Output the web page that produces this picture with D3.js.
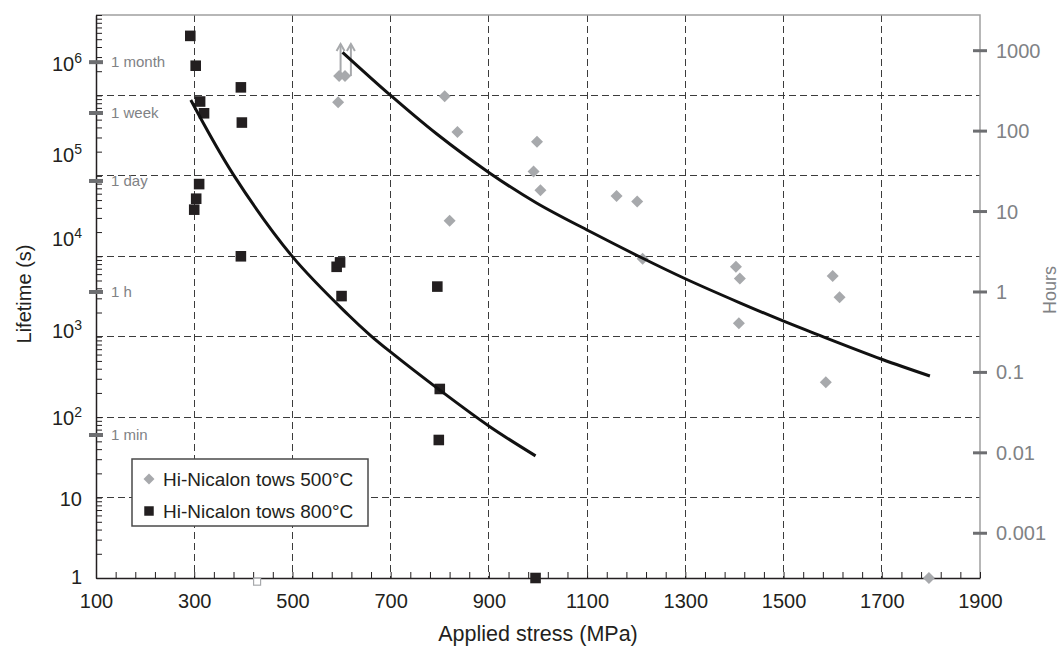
<!DOCTYPE html>
<html>
<head>
<meta charset="utf-8">
<script src="https://cdn.jsdelivr.net/npm/d3@7"></script>
<style>
    body { margin: 0; background: #fff; }
    svg { display: block; font-family: "Liberation Sans", Arial, sans-serif; }
</style>
</head>
<body>
<div id="chart"></div>
<script>
/* -------------------------------------------------------
   DATA
------------------------------------------------------- */

// Hi-Nicalon tows 800°C (squares)
const stress800 = [292, 303, 312, 320, 395, 397, 310, 304, 300, 395, 590, 597, 600, 795, 800, 798, 995];
const life800   = [5.5e6, 2.34e6, 8.4e5, 6.0e5, 1.26e6, 4.6e5, 7.9e4, 5.2e4, 3.8e4, 1.0e4, 7.4e3, 8.4e3, 3.2e3, 4.2e3, 224, 52, 1];

// Hi-Nicalon tows 500°C (diamonds)
const stress500 = [595, 607, 593, 810, 836, 998, 991, 1005, 820, 1160, 1202, 1213, 1403, 1411, 1600, 1614, 1409, 1586, 1796];
const life500   = [1.74e6, 1.74e6, 8.2e5, 9.8e5, 3.5e5, 2.66e5, 1.13e5, 6.6e4, 2.77e4, 5.6e4, 4.8e4, 9.3e3, 7.4e3, 5.3e3, 5.7e3, 3.1e3, 1.47e3, 271, 1];

// run-out arrows (500°C specimens that did not fail)
const runoutStress = [598, 619];
const runoutFrom   = [1.74e6, 1.74e6];
const runoutTo     = [4.36e6, 4.36e6];

// fitted curves
const fit800Stress = [293, 380, 500, 614, 658, 699, 800, 902, 995];
const fit800Life   = [8.77e5, 1.03e5, 9.9e3, 1.86e3, 1.05e3, 652, 217, 76, 33];
const fit500Stress = [602, 700, 794, 902, 997, 1104, 1208, 1301, 1411, 1499, 1568, 1700, 1798];
const fit500Life   = [3.44e6, 1.0e6, 3.31e5, 1.08e5, 4.6e4, 2.06e4, 9.8e3, 5.22e3, 2.64e3, 1.57e3, 1.07e3, 525, 325];

// stray open marker under the axis
const strayStress = [428];
const strayLife   = [0.9];

// axes
const xTickLabels  = [100, 300, 500, 700, 900, 1100, 1300, 1500, 1700, 1900];
const xGridValues  = [300, 500, 700, 900, 1100, 1300, 1500, 1700];
const yGridValues  = [10, 100, 1e3, 1e4, 1e5, 1e6];
const yLabelPowers = [0, 1, 2, 3, 4, 5, 6];
const hourTicks    = [1000, 100, 10, 1, 0.1, 0.01, 0.001];
const timeNames    = ["1 month", "1 week", "1 day", "1 h", "1 min"];
const timeSeconds  = [2592000, 604800, 86400, 3600, 60];
const legendLabels = ["Hi-Nicalon tows 500°C", "Hi-Nicalon tows 800°C"];

/* -------------------------------------------------------
   LAYOUT
------------------------------------------------------- */

const W = 1061, H = 653;
const plotL = 96, plotR = 980, plotT = 15, plotB = 578;
// the source drew the upper decade labels above their gridlines
const yLabelShift = [-1, 1, 1, -6, -17, -21, -31];

const INK = "#231f20";
const GREY_TXT = "#808285";
const GREY_TICK = "#6d6e71";
const DIAMOND = "#a7a9ac";

const svg = d3.select("#chart").append("svg")
    .attr("width", W)
    .attr("height", H);

const x = d3.scaleLinear().domain([100, 1900]).range([plotL, plotR]);
const y = d3.scaleLog().domain([1, 1e7]).range([plotB, plotT]);

/* --------------------------
   GRID
--------------------------- */
const grid = svg.append("g")
    .attr("stroke", "#3c3c3c")
    .attr("stroke-width", 1)
    .attr("stroke-dasharray", "7,4")
    .attr("shape-rendering", "crispEdges");

grid.selectAll("line.v")
    .data(xGridValues)
    .enter().append("line")
    .attr("class", "v")
    .attr("x1", d => x(d)).attr("x2", d => x(d))
    .attr("y1", plotT).attr("y2", plotB);

grid.selectAll("line.h")
    .data(yGridValues)
    .enter().append("line")
    .attr("class", "h")
    .attr("x1", plotL).attr("x2", plotR)
    .attr("y1", d => y(d)).attr("y2", d => y(d));

// top + right frame (grey)
svg.append("path")
    .attr("d", `M${plotL},${plotT}H${plotR}V${plotB}`)
    .attr("fill", "none")
    .attr("stroke", "#a0a0a0")
    .attr("stroke-width", 1.5);

/* --------------------------
   LEFT AXIS (seconds)
--------------------------- */
const yAxis = svg.append("g")
    .attr("transform", `translate(${plotL},0)`)
    .call(d3.axisRight(y).tickValues(y.ticks()).tickSize(6).tickSizeOuter(0).tickFormat(""));
yAxis.select(".domain").attr("stroke", INK).attr("stroke-width", 1.5);
yAxis.selectAll(".tick line").attr("stroke", INK).attr("stroke-width", 1);

yLabelPowers.forEach((p, i) => {
    const t = svg.append("text")
        .attr("x", 82)
        .attr("y", y(Math.pow(10, p)) + yLabelShift[i] + 7)
        .attr("text-anchor", "end")
        .attr("font-size", 20)
        .attr("fill", INK);
    if (p === 0) t.text("1");
    else if (p === 1) t.text("10");
    else {
        t.append("tspan").text("10");
        t.append("tspan").attr("dy", -8).attr("font-size", 14).text(p);
    }
});

// time-unit marks
const marks = svg.append("g");
marks.selectAll("line")
    .data(timeSeconds)
    .enter().append("line")
    .attr("x1", plotL - 7).attr("x2", plotL + 7)
    .attr("y1", d => y(d)).attr("y2", d => y(d))
    .attr("stroke", GREY_TICK)
    .attr("stroke-width", 4);
marks.selectAll("text")
    .data(timeSeconds)
    .enter().append("text")
    .attr("x", plotL + 15)
    .attr("y", d => y(d) + 5)
    .attr("font-size", 15)
    .attr("fill", GREY_TXT)
    .text((d, i) => timeNames[i]);

svg.append("text")
    .attr("transform", "translate(31,294) rotate(-90)")
    .attr("text-anchor", "middle")
    .attr("font-size", 20)
    .attr("fill", INK)
    .text("Lifetime (s)");

/* --------------------------
   RIGHT AXIS (hours)
--------------------------- */
const hrs = svg.append("g");
hrs.selectAll("line")
    .data(hourTicks)
    .enter().append("line")
    .attr("x1", plotR - 7).attr("x2", plotR + 7)
    .attr("y1", d => y(d * 3600)).attr("y2", d => y(d * 3600))
    .attr("stroke", GREY_TICK)
    .attr("stroke-width", 3);
hrs.selectAll("text")
    .data(hourTicks)
    .enter().append("text")
    .attr("x", plotR + 16)
    .attr("y", d => y(d * 3600) + 7)
    .attr("font-size", 20)
    .attr("fill", GREY_TXT)
    .text(d => String(d));

svg.append("text")
    .attr("transform", "translate(1056,290) rotate(-90)")
    .attr("text-anchor", "middle")
    .attr("font-size", 18)
    .attr("fill", GREY_TXT)
    .text("Hours");

/* --------------------------
   BOTTOM AXIS
--------------------------- */
const xMinor = d3.range(100, 1901, 40);
const xAxis = svg.append("g")
    .attr("transform", `translate(0,${plotB})`)
    .call(d3.axisTop(x).tickValues(xMinor).tickSize(6).tickSizeOuter(0).tickFormat(""));
xAxis.select(".domain").attr("stroke", INK).attr("stroke-width", 1.5);
xAxis.selectAll(".tick line").attr("stroke", INK).attr("stroke-width", 1);

const xLab = svg.append("g")
    .attr("transform", `translate(0,${plotB})`)
    .call(d3.axisBottom(x).tickValues(xTickLabels).tickSize(0).tickPadding(16).tickFormat(d3.format("d")));
xLab.select(".domain").remove();
xLab.selectAll("text")
    .attr("font-size", 20)
    .attr("font-family", "Liberation Sans, Arial, sans-serif")
    .attr("fill", INK);

svg.append("text")
    .attr("x", (plotL + plotR) / 2)
    .attr("y", 641)
    .attr("text-anchor", "middle")
    .attr("font-size", 21.5)
    .attr("fill", INK)
    .text("Applied stress (MPa)");

/* --------------------------
   MARKERS
--------------------------- */
const diamondPath = d3.symbol().type(d3.symbolSquare).size(72)();
const squarePath = d3.symbol().type(d3.symbolSquare).size(112)();

svg.append("g").selectAll("path")
    .data(stress500)
    .enter().append("path")
    .attr("d", diamondPath)
    .attr("transform", (d, i) => `translate(${x(d)},${y(life500[i])}) rotate(45)`)
    .attr("fill", DIAMOND);

svg.append("g").selectAll("path")
    .data(stress800)
    .enter().append("path")
    .attr("d", squarePath)
    .attr("transform", (d, i) => `translate(${x(d)},${y(life800[i])})`)
    .attr("fill", INK);

svg.append("g").selectAll("rect")
    .data(strayStress)
    .enter().append("rect")
    .attr("x", d => x(d) - 3.5)
    .attr("y", (d, i) => y(strayLife[i]) - 3.5)
    .attr("width", 7).attr("height", 7)
    .attr("fill", "#fff")
    .attr("stroke", DIAMOND)
    .attr("stroke-width", 1.2);

// run-out arrows
const arrows = svg.append("g")
    .attr("stroke", DIAMOND)
    .attr("stroke-width", 2)
    .attr("fill", "none");
runoutStress.forEach((s, i) => {
    const ax = x(s), y0 = y(runoutFrom[i]), y1 = y(runoutTo[i]);
    arrows.append("path").attr("d", `M${ax},${y0}V${y1}`);
    arrows.append("path").attr("d", `M${ax - 4},${y1 + 7}L${ax},${y1}L${ax + 4},${y1 + 7}`);
});

/* --------------------------
   FITTED CURVES
--------------------------- */
const fitLine = d3.line()
    .x(d => x(d[0]))
    .y(d => y(d[1]))
    .curve(d3.curveCatmullRom.alpha(0.5));

[[fit800Stress, fit800Life], [fit500Stress, fit500Life]].forEach(([xs, ys]) => {
    svg.append("path")
        .attr("d", fitLine(xs.map((s, i) => [s, ys[i]])))
        .attr("fill", "none")
        .attr("stroke", "#111")
        .attr("stroke-width", 3);
});

/* --------------------------
   LEGEND
--------------------------- */
const legend = svg.append("g");
legend.append("rect")
    .attr("x", 132).attr("y", 459)
    .attr("width", 236).attr("height", 67)
    .attr("fill", "#fff")
    .attr("stroke", "#4a4a4a")
    .attr("stroke-width", 1.5);

legend.append("path")
    .attr("d", d3.symbol().type(d3.symbolSquare).size(60)())
    .attr("transform", "translate(149,479) rotate(45)")
    .attr("fill", DIAMOND);
legend.append("path")
    .attr("d", d3.symbol().type(d3.symbolSquare).size(90)())
    .attr("transform", "translate(149,511)")
    .attr("fill", INK);

legend.selectAll("text")
    .data(legendLabels)
    .enter().append("text")
    .attr("x", 163)
    .attr("y", (d, i) => 486 + i * 32)
    .attr("font-size", 19)
    .attr("fill", INK)
    .text(d => d);
</script>
</body>
</html>
